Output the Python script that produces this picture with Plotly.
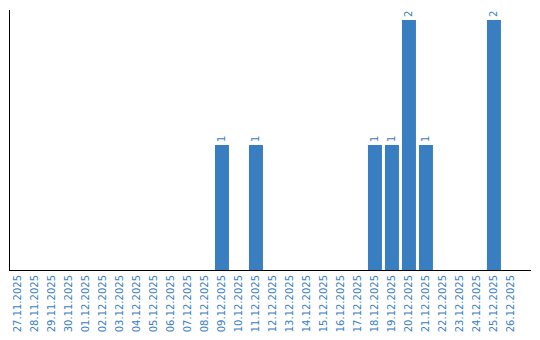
import plotly.graph_objects as go

dates = ["27.11.2025", "28.11.2025", "29.11.2025", "30.11.2025", "01.12.2025", "02.12.2025",
         "03.12.2025", "04.12.2025", "05.12.2025", "06.12.2025", "07.12.2025", "08.12.2025",
         "09.12.2025", "10.12.2025", "11.12.2025", "12.12.2025", "13.12.2025", "14.12.2025",
         "15.12.2025", "16.12.2025", "17.12.2025", "18.12.2025", "19.12.2025", "20.12.2025",
         "21.12.2025", "22.12.2025", "23.12.2025", "24.12.2025", "25.12.2025", "26.12.2025"]
counts = [0, 0, 0, 0, 0, 0, 0, 0, 0, 0, 0, 0, 1, 0, 1, 0, 0, 0, 0, 0, 0, 1, 1, 2, 1, 0, 0, 0, 2, 0]

blue = "#3a7ec2"
labels = [str(v) if v > 0 else "" for v in counts]

fig = go.Figure(go.Bar(
    x=dates, y=counts, marker_color=blue, marker_line_width=0,
    text=labels, textposition="outside", textangle=-90,
    textfont=dict(color=blue, size=10, family="DejaVu Sans"),
    cliponaxis=False,
))
fig.update_layout(
    width=540, height=340,
    margin=dict(l=10, r=9, t=10, b=70),
    paper_bgcolor="white", plot_bgcolor="white",
    bargap=0.176, showlegend=False,
    xaxis=dict(type="category", range=[-0.47, 30.18], tickangle=-90, showline=True,
               linecolor="black", linewidth=1, showgrid=False, ticks="",
               tickfont=dict(color=blue, size=10, family="DejaVu Sans")),
    yaxis=dict(range=[0, 2.08], showline=True, linecolor="black", linewidth=1,
               showgrid=False, showticklabels=False, ticks="", zeroline=False),
)
fig.write_html("out.html")
